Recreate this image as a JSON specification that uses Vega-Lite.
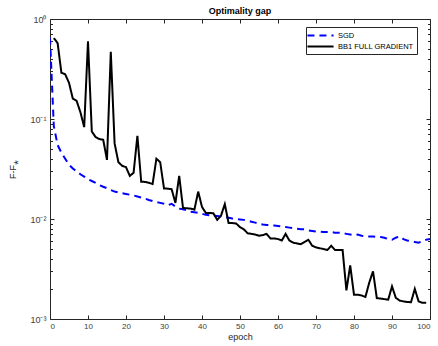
{
 "$schema": "https://vega.github.io/schema/vega-lite/v6.json",
 "width": 380, "height": 300,
 "autosize": "none",
 "padding": {"left": 50, "top": 19, "right": 8, "bottom": 27},
 "title": {"text": "Optimality gap", "fontSize": 9, "fontWeight": "bold", "font": "Liberation Sans", "color": "black", "offset": -1, "anchor": "middle"},
 "config": {
  "view": {"stroke": null},
  "axis": {"domainColor": "#262626", "domainWidth": 1, "tickColor": "#262626", "tickWidth": 1, "labelFont": "Liberation Sans", "labelFontSize": 8, "labelColor": "#404040", "titleFont": "Liberation Sans", "titleFontSize": 9, "titleFontWeight": "normal", "titleColor": "#262626", "grid": false}
 },
 "data": {"values": [
  {"epoch":0,"gap":0.65,"series":"SGD"},{"epoch":1,"gap":0.085,"series":"SGD"},{"epoch":2,"gap":0.055,"series":"SGD"},{"epoch":3,"gap":0.046,"series":"SGD"},{"epoch":4,"gap":0.040,"series":"SGD"},{"epoch":5,"gap":0.035,"series":"SGD"},{"epoch":6,"gap":0.032,"series":"SGD"},{"epoch":7,"gap":0.030,"series":"SGD"},{"epoch":8,"gap":0.028,"series":"SGD"},{"epoch":9,"gap":0.0265,"series":"SGD"},{"epoch":10,"gap":0.025,"series":"SGD"},
  {"epoch":11,"gap":0.024,"series":"SGD"},{"epoch":12,"gap":0.023,"series":"SGD"},{"epoch":13,"gap":0.0218,"series":"SGD"},{"epoch":14,"gap":0.021,"series":"SGD"},{"epoch":15,"gap":0.0203,"series":"SGD"},{"epoch":16,"gap":0.0195,"series":"SGD"},{"epoch":17,"gap":0.0188,"series":"SGD"},{"epoch":18,"gap":0.0184,"series":"SGD"},{"epoch":19,"gap":0.0181,"series":"SGD"},{"epoch":20,"gap":0.0178,"series":"SGD"},
  {"epoch":21,"gap":0.0175,"series":"SGD"},{"epoch":22,"gap":0.0172,"series":"SGD"},{"epoch":23,"gap":0.0168,"series":"SGD"},{"epoch":24,"gap":0.0164,"series":"SGD"},{"epoch":25,"gap":0.016,"series":"SGD"},{"epoch":26,"gap":0.0155,"series":"SGD"},{"epoch":27,"gap":0.0151,"series":"SGD"},{"epoch":28,"gap":0.0148,"series":"SGD"},{"epoch":29,"gap":0.0145,"series":"SGD"},{"epoch":30,"gap":0.0142,"series":"SGD"},
  {"epoch":31,"gap":0.0137,"series":"SGD"},{"epoch":32,"gap":0.0142,"series":"SGD"},{"epoch":33,"gap":0.0133,"series":"SGD"},{"epoch":34,"gap":0.0127,"series":"SGD"},{"epoch":35,"gap":0.0125,"series":"SGD"},{"epoch":36,"gap":0.0122,"series":"SGD"},{"epoch":37,"gap":0.0118,"series":"SGD"},{"epoch":38,"gap":0.0117,"series":"SGD"},{"epoch":39,"gap":0.0115,"series":"SGD"},{"epoch":40,"gap":0.0113,"series":"SGD"},
  {"epoch":41,"gap":0.011,"series":"SGD"},{"epoch":42,"gap":0.0109,"series":"SGD"},{"epoch":43,"gap":0.0108,"series":"SGD"},{"epoch":44,"gap":0.0107,"series":"SGD"},{"epoch":45,"gap":0.0106,"series":"SGD"},{"epoch":46,"gap":0.0105,"series":"SGD"},{"epoch":47,"gap":0.0103,"series":"SGD"},{"epoch":48,"gap":0.0101,"series":"SGD"},{"epoch":49,"gap":0.0100,"series":"SGD"},{"epoch":50,"gap":0.0099,"series":"SGD"},
  {"epoch":51,"gap":0.0098,"series":"SGD"},{"epoch":52,"gap":0.0096,"series":"SGD"},{"epoch":53,"gap":0.0094,"series":"SGD"},{"epoch":54,"gap":0.0092,"series":"SGD"},{"epoch":55,"gap":0.0090,"series":"SGD"},{"epoch":56,"gap":0.0088,"series":"SGD"},{"epoch":57,"gap":0.0087,"series":"SGD"},{"epoch":58,"gap":0.0087,"series":"SGD"},{"epoch":59,"gap":0.0086,"series":"SGD"},{"epoch":60,"gap":0.0085,"series":"SGD"},
  {"epoch":61,"gap":0.0084,"series":"SGD"},{"epoch":62,"gap":0.0083,"series":"SGD"},{"epoch":63,"gap":0.0082,"series":"SGD"},{"epoch":64,"gap":0.0081,"series":"SGD"},{"epoch":65,"gap":0.0080,"series":"SGD"},{"epoch":66,"gap":0.0079,"series":"SGD"},{"epoch":67,"gap":0.0079,"series":"SGD"},{"epoch":68,"gap":0.0077,"series":"SGD"},{"epoch":69,"gap":0.0076,"series":"SGD"},{"epoch":70,"gap":0.0075,"series":"SGD"},
  {"epoch":71,"gap":0.0075,"series":"SGD"},{"epoch":72,"gap":0.0074,"series":"SGD"},{"epoch":73,"gap":0.0074,"series":"SGD"},{"epoch":74,"gap":0.0074,"series":"SGD"},{"epoch":75,"gap":0.0073,"series":"SGD"},{"epoch":76,"gap":0.0073,"series":"SGD"},{"epoch":77,"gap":0.0072,"series":"SGD"},{"epoch":78,"gap":0.0071,"series":"SGD"},{"epoch":79,"gap":0.0070,"series":"SGD"},{"epoch":80,"gap":0.0069,"series":"SGD"},
  {"epoch":81,"gap":0.0070,"series":"SGD"},{"epoch":82,"gap":0.0068,"series":"SGD"},{"epoch":83,"gap":0.0067,"series":"SGD"},{"epoch":84,"gap":0.0067,"series":"SGD"},{"epoch":85,"gap":0.0067,"series":"SGD"},{"epoch":86,"gap":0.0066,"series":"SGD"},{"epoch":87,"gap":0.0066,"series":"SGD"},{"epoch":88,"gap":0.0065,"series":"SGD"},{"epoch":89,"gap":0.0063,"series":"SGD"},{"epoch":90,"gap":0.0062,"series":"SGD"},
  {"epoch":91,"gap":0.0065,"series":"SGD"},{"epoch":92,"gap":0.0067,"series":"SGD"},{"epoch":93,"gap":0.0063,"series":"SGD"},{"epoch":94,"gap":0.0061,"series":"SGD"},{"epoch":95,"gap":0.0060,"series":"SGD"},{"epoch":96,"gap":0.0059,"series":"SGD"},{"epoch":97,"gap":0.0058,"series":"SGD"},{"epoch":98,"gap":0.0060,"series":"SGD"},{"epoch":99,"gap":0.0062,"series":"SGD"},{"epoch":100,"gap":0.0063,"series":"SGD"},
  {"epoch":1,"gap":0.645,"series":"BB1 FULL GRADIENT"},{"epoch":2,"gap":0.575,"series":"BB1 FULL GRADIENT"},{"epoch":3,"gap":0.29,"series":"BB1 FULL GRADIENT"},{"epoch":4,"gap":0.28,"series":"BB1 FULL GRADIENT"},{"epoch":5,"gap":0.23,"series":"BB1 FULL GRADIENT"},{"epoch":6,"gap":0.16,"series":"BB1 FULL GRADIENT"},{"epoch":7,"gap":0.152,"series":"BB1 FULL GRADIENT"},{"epoch":8,"gap":0.117,"series":"BB1 FULL GRADIENT"},{"epoch":9,"gap":0.083,"series":"BB1 FULL GRADIENT"},{"epoch":10,"gap":0.60,"series":"BB1 FULL GRADIENT"},
  {"epoch":11,"gap":0.075,"series":"BB1 FULL GRADIENT"},{"epoch":12,"gap":0.066,"series":"BB1 FULL GRADIENT"},{"epoch":13,"gap":0.063,"series":"BB1 FULL GRADIENT"},{"epoch":14,"gap":0.062,"series":"BB1 FULL GRADIENT"},{"epoch":15,"gap":0.039,"series":"BB1 FULL GRADIENT"},{"epoch":16,"gap":0.47,"series":"BB1 FULL GRADIENT"},{"epoch":17,"gap":0.057,"series":"BB1 FULL GRADIENT"},{"epoch":18,"gap":0.037,"series":"BB1 FULL GRADIENT"},{"epoch":19,"gap":0.034,"series":"BB1 FULL GRADIENT"},{"epoch":20,"gap":0.033,"series":"BB1 FULL GRADIENT"},
  {"epoch":21,"gap":0.027,"series":"BB1 FULL GRADIENT"},{"epoch":22,"gap":0.029,"series":"BB1 FULL GRADIENT"},{"epoch":23,"gap":0.068,"series":"BB1 FULL GRADIENT"},{"epoch":24,"gap":0.0236,"series":"BB1 FULL GRADIENT"},{"epoch":25,"gap":0.0235,"series":"BB1 FULL GRADIENT"},{"epoch":26,"gap":0.023,"series":"BB1 FULL GRADIENT"},{"epoch":27,"gap":0.0224,"series":"BB1 FULL GRADIENT"},{"epoch":28,"gap":0.040,"series":"BB1 FULL GRADIENT"},{"epoch":29,"gap":0.037,"series":"BB1 FULL GRADIENT"},{"epoch":30,"gap":0.0202,"series":"BB1 FULL GRADIENT"},
  {"epoch":31,"gap":0.0201,"series":"BB1 FULL GRADIENT"},{"epoch":32,"gap":0.0199,"series":"BB1 FULL GRADIENT"},{"epoch":33,"gap":0.0145,"series":"BB1 FULL GRADIENT"},{"epoch":34,"gap":0.027,"series":"BB1 FULL GRADIENT"},{"epoch":35,"gap":0.0129,"series":"BB1 FULL GRADIENT"},{"epoch":36,"gap":0.0128,"series":"BB1 FULL GRADIENT"},{"epoch":37,"gap":0.0127,"series":"BB1 FULL GRADIENT"},{"epoch":38,"gap":0.0124,"series":"BB1 FULL GRADIENT"},{"epoch":39,"gap":0.0188,"series":"BB1 FULL GRADIENT"},{"epoch":40,"gap":0.0132,"series":"BB1 FULL GRADIENT"},
  {"epoch":41,"gap":0.0115,"series":"BB1 FULL GRADIENT"},{"epoch":42,"gap":0.0115,"series":"BB1 FULL GRADIENT"},{"epoch":43,"gap":0.0114,"series":"BB1 FULL GRADIENT"},{"epoch":44,"gap":0.0098,"series":"BB1 FULL GRADIENT"},{"epoch":45,"gap":0.0108,"series":"BB1 FULL GRADIENT"},{"epoch":46,"gap":0.0141,"series":"BB1 FULL GRADIENT"},{"epoch":47,"gap":0.0091,"series":"BB1 FULL GRADIENT"},{"epoch":48,"gap":0.0091,"series":"BB1 FULL GRADIENT"},{"epoch":49,"gap":0.0090,"series":"BB1 FULL GRADIENT"},{"epoch":50,"gap":0.0083,"series":"BB1 FULL GRADIENT"},
  {"epoch":51,"gap":0.0079,"series":"BB1 FULL GRADIENT"},{"epoch":52,"gap":0.0072,"series":"BB1 FULL GRADIENT"},{"epoch":53,"gap":0.0071,"series":"BB1 FULL GRADIENT"},{"epoch":54,"gap":0.0070,"series":"BB1 FULL GRADIENT"},{"epoch":55,"gap":0.0068,"series":"BB1 FULL GRADIENT"},{"epoch":56,"gap":0.0069,"series":"BB1 FULL GRADIENT"},{"epoch":57,"gap":0.0071,"series":"BB1 FULL GRADIENT"},{"epoch":58,"gap":0.0064,"series":"BB1 FULL GRADIENT"},{"epoch":59,"gap":0.0064,"series":"BB1 FULL GRADIENT"},{"epoch":60,"gap":0.0063,"series":"BB1 FULL GRADIENT"},
  {"epoch":61,"gap":0.0061,"series":"BB1 FULL GRADIENT"},{"epoch":62,"gap":0.0071,"series":"BB1 FULL GRADIENT"},{"epoch":63,"gap":0.0061,"series":"BB1 FULL GRADIENT"},{"epoch":64,"gap":0.0058,"series":"BB1 FULL GRADIENT"},{"epoch":65,"gap":0.0057,"series":"BB1 FULL GRADIENT"},{"epoch":66,"gap":0.0056,"series":"BB1 FULL GRADIENT"},{"epoch":67,"gap":0.0059,"series":"BB1 FULL GRADIENT"},{"epoch":68,"gap":0.0062,"series":"BB1 FULL GRADIENT"},{"epoch":69,"gap":0.0054,"series":"BB1 FULL GRADIENT"},{"epoch":70,"gap":0.0052,"series":"BB1 FULL GRADIENT"},
  {"epoch":71,"gap":0.0051,"series":"BB1 FULL GRADIENT"},{"epoch":72,"gap":0.0050,"series":"BB1 FULL GRADIENT"},{"epoch":73,"gap":0.0049,"series":"BB1 FULL GRADIENT"},{"epoch":74,"gap":0.0054,"series":"BB1 FULL GRADIENT"},{"epoch":75,"gap":0.0049,"series":"BB1 FULL GRADIENT"},{"epoch":76,"gap":0.0049,"series":"BB1 FULL GRADIENT"},{"epoch":77,"gap":0.0049,"series":"BB1 FULL GRADIENT"},{"epoch":78,"gap":0.00193,"series":"BB1 FULL GRADIENT"},{"epoch":79,"gap":0.00344,"series":"BB1 FULL GRADIENT"},{"epoch":80,"gap":0.00175,"series":"BB1 FULL GRADIENT"},
  {"epoch":81,"gap":0.00175,"series":"BB1 FULL GRADIENT"},{"epoch":82,"gap":0.00172,"series":"BB1 FULL GRADIENT"},{"epoch":83,"gap":0.00166,"series":"BB1 FULL GRADIENT"},{"epoch":84,"gap":0.0023,"series":"BB1 FULL GRADIENT"},{"epoch":85,"gap":0.0030,"series":"BB1 FULL GRADIENT"},{"epoch":86,"gap":0.00162,"series":"BB1 FULL GRADIENT"},{"epoch":87,"gap":0.0016,"series":"BB1 FULL GRADIENT"},{"epoch":88,"gap":0.00158,"series":"BB1 FULL GRADIENT"},{"epoch":89,"gap":0.00156,"series":"BB1 FULL GRADIENT"},{"epoch":90,"gap":0.00212,"series":"BB1 FULL GRADIENT"},
  {"epoch":91,"gap":0.00163,"series":"BB1 FULL GRADIENT"},{"epoch":92,"gap":0.00153,"series":"BB1 FULL GRADIENT"},{"epoch":93,"gap":0.0015,"series":"BB1 FULL GRADIENT"},{"epoch":94,"gap":0.00148,"series":"BB1 FULL GRADIENT"},{"epoch":95,"gap":0.00147,"series":"BB1 FULL GRADIENT"},{"epoch":96,"gap":0.0020,"series":"BB1 FULL GRADIENT"},{"epoch":97,"gap":0.0015,"series":"BB1 FULL GRADIENT"},{"epoch":98,"gap":0.00145,"series":"BB1 FULL GRADIENT"},{"epoch":99,"gap":0.00145,"series":"BB1 FULL GRADIENT"}
 ]},
 "layer": [
  {
   "mark": {"type": "line", "strokeWidth": 2, "clip": true},
   "encoding": {
    "x": {"field": "epoch", "type": "quantitative", "scale": {"domain": [0, 100], "nice": false, "zero": false},
      "axis": {"orient": "bottom", "values": [0,10,20,30,40,50,60,70,80,90,100], "title": "epoch", "tickSize": -4, "labelPadding": 7, "titlePadding": 2}},
    "y": {"field": "gap", "type": "quantitative", "scale": {"type": "log", "domain": [0.001, 1], "nice": false},
      "axis": {"orient": "left", "values": [0.001,0.002,0.003,0.004,0.005,0.006,0.007,0.008,0.009,0.01,0.02,0.03,0.04,0.05,0.06,0.07,0.08,0.09,0.1,0.2,0.3,0.4,0.5,0.6,0.7,0.8,0.9,1],
       "labelExpr": "datum.value > 0.99 ? '10⁰' : (datum.value > 0.099 && datum.value < 0.101) ? '10⁻¹' : (datum.value > 0.0099 && datum.value < 0.0101) ? '10⁻²' : (datum.value > 0.00099 && datum.value < 0.00101) ? '10⁻³' : ''",
       "labelFontSize": 9,
       "tickSize": {"condition": {"test": "datum.value > 0.99 || (datum.value > 0.099 && datum.value < 0.101) || (datum.value > 0.0099 && datum.value < 0.0101) || (datum.value > 0.00099 && datum.value < 0.00101)", "value": -4}, "value": -2.5},
       "labelPadding": 8, "title": "F-F⁎", "titlePadding": 12}},
    "color": {"field": "series", "type": "nominal", "scale": {"domain": ["SGD", "BB1 FULL GRADIENT"], "range": ["#0000ff", "#000000"]},
      "legend": {"orient": "none", "legendX": 256, "legendY": 8, "title": null, "strokeColor": "#262626", "fillColor": "white", "padding": 3, "symbolType": "M-2.9,0H2.9", "symbolSize": 81, "symbolOffset": 6, "symbolStrokeWidth": 2, "labelFont": "Liberation Sans", "labelFontSize": 7.5, "labelColor": "black", "rowPadding": 1, "labelOffset": 12}},
    "strokeDash": {"field": "series", "type": "nominal", "scale": {"domain": ["SGD", "BB1 FULL GRADIENT"], "range": [[7, 5], [1, 0]]},
      "legend": {"orient": "none", "legendX": 256, "legendY": 8, "title": null, "strokeColor": "#262626", "fillColor": "white", "padding": 3, "symbolType": "M-2.9,0H2.9", "symbolSize": 81, "symbolOffset": 6, "symbolStrokeWidth": 2, "labelFont": "Liberation Sans", "labelFontSize": 7.5, "labelColor": "black", "rowPadding": 1, "labelOffset": 12}}
   }
  },
  {
   "mark": {"type": "line", "opacity": 0},
   "encoding": {
    "x": {"field": "epoch", "type": "quantitative", "axis": {"orient": "top", "values": [0,10,20,30,40,50,60,70,80,90,100], "labels": false, "title": null, "tickSize": -4}},
    "y": {"field": "gap", "type": "quantitative",
      "axis": {"orient": "right", "values": [0.001,0.002,0.003,0.004,0.005,0.006,0.007,0.008,0.009,0.01,0.02,0.03,0.04,0.05,0.06,0.07,0.08,0.09,0.1,0.2,0.3,0.4,0.5,0.6,0.7,0.8,0.9,1], "labels": false, "title": null,
       "tickSize": {"condition": {"test": "datum.value > 0.99 || (datum.value > 0.099 && datum.value < 0.101) || (datum.value > 0.0099 && datum.value < 0.0101) || (datum.value > 0.00099 && datum.value < 0.00101)", "value": -4}, "value": -2.5}}},
    "detail": {"field": "series"}
   }
  }
 ],
 "resolve": {"axis": {"x": "independent", "y": "independent"}}
}
